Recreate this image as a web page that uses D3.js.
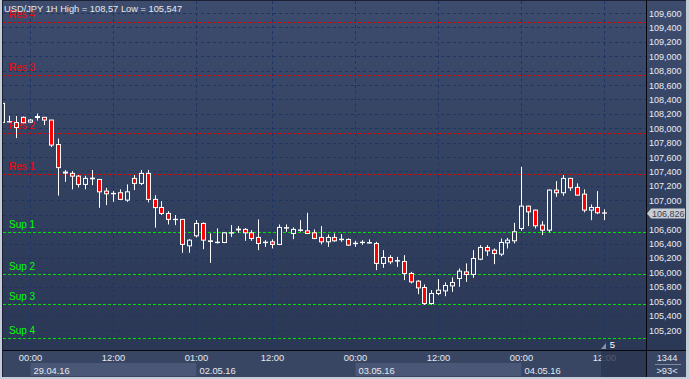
<!DOCTYPE html>
<html><head><meta charset="utf-8">
<script src="https://cdn.jsdelivr.net/npm/d3@7"></script>
<style>html,body{margin:0;padding:0;background:#c4ccd8;overflow:hidden}svg{display:block}</style>
</head><body>
<svg id="c" width="689" height="379"></svg>
<script>
// ---------------- data ----------------
const title = "USD/JPY 1H High = 108,57 Low = 105,547";
const firstBar = -4; // bar index of first candle (0 = 29.04.16 00:00)
const opens  = [108.082,108.088,108.079,108.152,108.086,108.149,108.152,108.114,107.774,107.378,107.374,107.336,107.221,107.299,107.290,107.128,107.091,107.105,107.003,107.304,107.235,107.374,107.013,106.901,106.818,106.732,106.735,106.368,106.507,106.679,106.429,106.413,106.415,106.545,106.590,106.596,106.549,106.485,106.413,106.424,106.388,106.614,106.540,106.582,106.577,106.549,106.485,106.424,106.485,106.454,106.457,106.399,106.413,106.407,106.401,106.124,106.207,106.157,106.151,105.985,105.878,105.790,105.568,105.707,105.743,105.812,105.915,106.007,105.971,106.183,106.346,106.308,106.253,106.410,106.438,106.610,106.919,106.864,106.656,106.586,107.142,107.105,107.304,107.180,107.086,106.864,106.901,106.822];
const highs  = [108.378,108.174,108.170,108.163,108.128,108.204,108.156,108.118,107.857,107.420,107.406,107.350,107.340,107.420,107.294,107.174,107.128,107.152,107.221,107.350,107.420,107.420,107.072,106.989,106.850,106.795,106.739,106.461,106.725,106.693,106.540,106.610,106.558,106.656,106.642,106.614,106.586,106.735,106.447,106.457,106.665,106.665,106.624,106.725,106.827,106.596,106.642,106.526,106.540,106.531,106.471,106.438,106.447,106.457,106.424,106.308,106.239,106.215,106.239,106.007,105.892,105.832,105.753,105.906,105.860,105.929,106.054,106.124,106.308,106.378,106.378,106.332,106.471,106.479,106.688,107.465,106.925,106.870,106.711,107.152,107.267,107.350,107.313,107.235,107.152,106.943,107.128,106.874];
const lows   = [108.058,108.082,107.864,108.072,108.072,108.107,108.044,107.739,107.065,107.257,107.152,107.179,107.152,107.211,106.896,106.934,106.979,107.003,106.979,107.142,107.211,106.971,106.621,106.795,106.665,106.656,106.271,106.271,106.485,106.322,106.132,106.401,106.406,106.493,106.549,106.438,106.438,106.308,106.354,106.332,106.378,106.563,106.461,106.563,106.531,106.461,106.388,106.354,106.424,106.424,106.368,106.354,106.382,106.401,106.031,106.063,106.114,106.076,105.892,105.846,105.697,105.547,105.550,105.683,105.669,105.729,105.799,105.868,105.924,106.169,106.229,106.114,106.225,106.332,106.401,106.577,106.642,106.610,106.517,106.549,107.049,107.063,107.132,107.063,106.832,106.725,106.808,106.725];
const closes = [108.346,108.092,108.010,108.077,108.114,108.163,108.114,107.767,107.454,107.392,107.336,107.221,107.304,107.308,107.118,107.091,107.096,107.013,107.118,107.235,107.374,107.013,106.899,106.818,106.735,106.736,106.388,106.447,106.679,106.447,106.438,106.419,106.549,106.551,106.600,106.549,106.471,106.401,106.419,106.388,106.624,106.621,106.596,106.589,106.540,106.471,106.424,106.485,106.438,106.460,106.378,106.404,106.418,106.413,106.124,106.207,106.146,106.163,105.985,105.868,105.785,105.568,105.707,105.753,105.818,105.860,106.017,105.971,106.193,106.346,106.299,106.262,106.415,106.447,106.563,106.919,106.840,106.646,106.586,107.142,107.105,107.304,107.174,107.072,106.864,106.901,106.827,106.826];
const levelNames  = ["Res 4","Res 3","Res 2","Res 1","Sup 1","Sup 2","Sup 3","Sup 4"];
const levelValues = [109.475,108.739,107.933,107.364,106.558,105.975,105.558,105.086];
const levelTypes  = ["res","res","res","res","sup","sup","sup","sup"];
const priceTicks  = [105.2,105.4,105.6,105.8,106.0,106.2,106.4,106.6,106.8,107.0,107.2,107.4,107.6,107.8,108.0,108.2,108.4,108.6,108.8,109.0,109.2,109.4,109.6];
const timeTickBars   = [0,12,24,35,47,59,71,83];
const timeTickLabels = ["00:00","12:00","01:00","12:00","00:00","12:00","00:00","12:00"];
const dateStartBars  = [0,24,47,71];
const dateLabels     = ["29.04.16","02.05.16","03.05.16","04.05.16"];
const lastPrice = 106.826;
const barsLabel = "1344", shiftLabel = ">93<", timerLabel = "5";

// ---------------- layout ----------------
const W = 689, H = 379;
const PL = 3, PR = 646, PT = 1, PB = 350;
const svg = d3.select("#c");
const defs = svg.append("defs");
const g1 = defs.append("linearGradient").attr("id","bg").attr("gradientUnits","userSpaceOnUse")
  .attr("x1",0).attr("y1",PT).attr("x2",0).attr("y2",PB);
g1.append("stop").attr("offset","0").attr("stop-color","#3d4c6d");
g1.append("stop").attr("offset","1").attr("stop-color","#2a3755");
defs.append("clipPath").attr("id","plotclip").append("rect")
  .attr("x",PL).attr("y",PT).attr("width",PR-PL).attr("height",PB-PT);

const font = "'Liberation Sans', Arial, sans-serif";

// window frame
svg.append("rect").attr("x",0).attr("y",0).attr("width",W).attr("height",H).attr("fill","#c4ccd8");
svg.append("rect").attr("x",2).attr("y",0).attr("width",W-5).attr("height",H-2).attr("fill","#1b2236");
// plot bg
svg.append("rect").attr("x",PL).attr("y",PT).attr("width",PR-PL).attr("height",PB-PT).attr("fill","url(#bg)");
// right axis panel
svg.append("rect").attr("x",PR+1).attr("y",PT).attr("width",W-3-PR-1).attr("height",PB-PT).attr("fill","url(#bg)");
// bottom axis panel
svg.append("rect").attr("x",PL).attr("y",PB+1).attr("width",PR-PL).attr("height",H-2-PB-1).attr("fill","#394663");
svg.append("rect").attr("x",PR+1).attr("y",PB+1).attr("width",W-3-PR-1).attr("height",H-2-PB-1).attr("fill","#394663");

// scales
const x = d3.scaleLinear().domain([0, 83]).range([30, 30 + 83*6.92]);
const y = d3.scaleLinear().domain([105.2, 109.6]).range([330, 13]);
const px = v => Math.round(x(v)) + 0.5;

// grid
const plot = svg.append("g").attr("clip-path","url(#plotclip)");
plot.selectAll("line.hg").data(priceTicks).join("line").attr("class","hg")
  .attr("x1",PL).attr("x2",PR).attr("y1",d=>Math.round(y(d))+0.5).attr("y2",d=>Math.round(y(d))+0.5)
  .attr("stroke","#1d3564").attr("stroke-dasharray","3,3");
plot.selectAll("line.vg").data(timeTickBars).join("line").attr("class","vg")
  .attr("x1",d=>px(d)).attr("x2",d=>px(d)).attr("y1",PT).attr("y2",PB)
  .attr("stroke","#1d3564").attr("stroke-dasharray","3,3");

// level lines
const lev = levelNames.map((n,i)=>({name:n, v:levelValues[i], t:levelTypes[i]}));
plot.selectAll("line.lv").data(lev).join("line").attr("class","lv")
  .attr("x1",PL).attr("x2",PR).attr("y1",d=>Math.round(y(d.v))+0.5).attr("y2",d=>Math.round(y(d.v))+0.5)
  .attr("stroke",d=>d.t==="res"?"#e00000":"#00e000").attr("stroke-dasharray","3,2");
plot.selectAll("text.lv").data(lev).join("text").attr("class","lv")
  .attr("x",9).attr("y",d=>Math.round(y(d.v))-4)
  .attr("fill",d=>d.t==="res"?"#ff0000":"#00ff00")
  .attr("font-family",font).attr("font-size",10).text(d=>d.name);

// candles
const bars = opens.map((o,i)=>({i:i+firstBar, o, h:highs[i], l:lows[i], c:closes[i]}));
const cg = plot.append("g");
cg.selectAll("line.wick").data(bars).join("line").attr("class","wick")
  .attr("x1",d=>px(d.i)).attr("x2",d=>px(d.i))
  .attr("y1",d=>y(d.h)).attr("y2",d=>y(d.l)).attr("stroke","#ffffff");
cg.selectAll("rect.body").data(bars).join("rect").attr("class","body")
  .attr("x",d=>px(d.i)-2).attr("width",4)
  .attr("y",d=>y(Math.max(d.o,d.c)))
  .attr("height",d=>Math.max(0.01, Math.abs(y(d.o)-y(d.c))))
  .attr("fill",d=>d.c>=d.o?"url(#bg)":"#ff0000")
  .attr("stroke","#ffffff").attr("stroke-width",1);

// title
svg.append("text").attr("x",4).attr("y",12).attr("fill","#e6e9ef")
  .attr("font-family",font).attr("font-size",9.3).text(title);

// separators
svg.append("line").attr("x1",PR+0.5).attr("x2",PR+0.5).attr("y1",0).attr("y2",H-2).attr("stroke","#05070c");
svg.append("line").attr("x1",PL).attr("x2",W-3).attr("y1",PB+0.5).attr("y2",PB+0.5).attr("stroke","#05070c");

// price axis (labels hidden where the current-price marker sits, as in the terminal)
const fmt = v => d3.format(".3f")(v).replace(".",",");
const yl = Math.round(y(lastPrice))+0.5;
svg.selectAll("text.pt").data(priceTicks.filter(v => Math.abs(y(v) - yl) > 9)).join("text").attr("class","pt")
  .attr("x",649).attr("y",d=>y(d)+3.5).attr("fill","#e8ecf4")
  .attr("font-family",font).attr("font-size",9).text(fmt);

// current price marker
svg.append("path").attr("d",`M647,${yl} L651,${yl-5} L685,${yl-5} L685,${yl+5} L651,${yl+5} Z`)
  .attr("fill","#c9cdd4");
svg.append("text").attr("x",652).attr("y",yl+3.3).attr("fill","#3a4250")
  .attr("font-family",font).attr("font-size",9).text(fmt(lastPrice));

// date boxes
const dates = dateLabels.map((d,i)=>({d, s:dateStartBars[i], e: i<dateStartBars.length-1 ? dateStartBars[i+1] : null}));
svg.selectAll("rect.db").data(dates).join("rect").attr("class","db")
  .attr("x",d=>px(d.s)).attr("y",363)
  .attr("width",d=>(d.e===null? PR : px(d.e)) - px(d.s))
  .attr("height",13)
  .attr("fill",(d,i)=>i%2===0?"#4a5776":"#394663");
svg.selectAll("text.dl").data(dates).join("text").attr("class","dl")
  .attr("x",d=>px(d.s)+3).attr("y",374).attr("fill","#e6e9ef")
  .attr("font-family",font).attr("font-size",9.3).text(d=>d.d);

// time labels
svg.selectAll("text.tl").data(timeTickBars).join("text").attr("class","tl")
  .attr("x",d=>px(d)).attr("y",361).attr("text-anchor","middle").attr("fill","#e6e9ef")
  .attr("font-family",font).attr("font-size",9.3).text((d,i)=>timeTickLabels[i]);

// shift area overlay
svg.append("rect").attr("x",601).attr("y",PB+1).attr("width",PR-601).attr("height",H-2-PB-1)
  .attr("fill","#2b3551").attr("opacity",0.8);
svg.append("path").attr("d","M601,349 L606,343 L606,349 Z").attr("fill","#8a93a6");
svg.append("text").attr("x",612.5).attr("y",348).attr("text-anchor","middle").attr("fill","#ffffff")
  .attr("font-family",font).attr("font-size",9.5).text(timerLabel);

// corner box
svg.append("text").attr("x",667).attr("y",361).attr("text-anchor","middle").attr("fill","#e6e9ef")
  .attr("font-family",font).attr("font-size",9.3).text(barsLabel);
svg.append("line").attr("x1",655).attr("x2",681).attr("y1",364.5).attr("y2",364.5).attr("stroke","#7f8aa0");
svg.append("text").attr("x",667).attr("y",374).attr("text-anchor","middle").attr("fill","#e6e9ef")
  .attr("font-family",font).attr("font-size",9.3).text(shiftLabel);
</script>
</body></html>
